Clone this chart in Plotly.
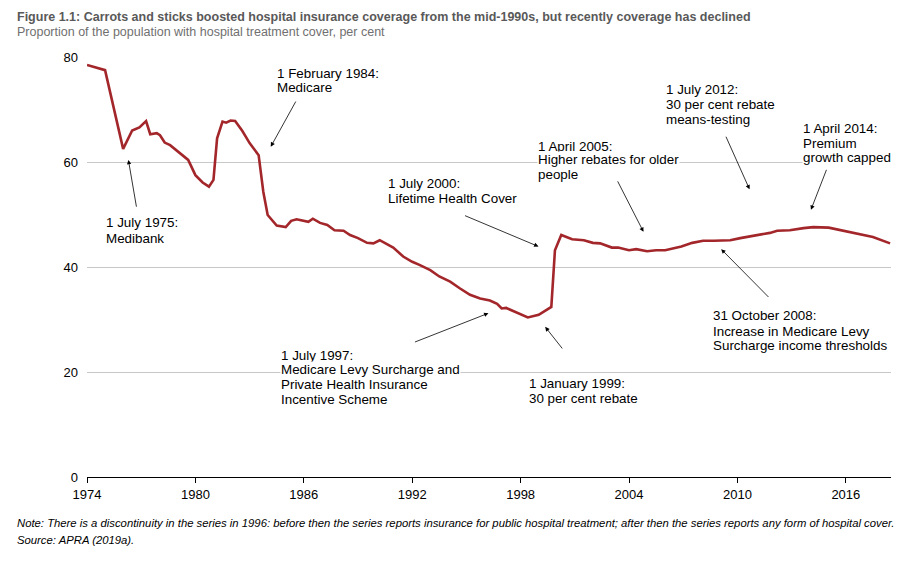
import plotly.graph_objects as go

# ---- data ----
years = [1974.0, 1975.0, 1976.0, 1976.5, 1976.9, 1977.27, 1977.5, 1977.86, 1978.04, 1978.3,
         1978.6, 1978.9, 1979.3, 1979.6, 1980.0, 1980.4, 1980.75, 1981.0, 1981.2, 1981.5,
         1981.7, 1981.95, 1982.2, 1982.6, 1983.0, 1983.5, 1983.76, 1984.0, 1984.5, 1985.0,
         1985.3, 1985.6, 1986.25, 1986.5, 1986.9, 1987.3, 1987.7, 1988.2, 1988.56, 1989.0,
         1989.5, 1989.85, 1990.2, 1990.95, 1991.5, 1992.0, 1992.4, 1993.0, 1993.5, 1994.1,
         1994.65, 1995.2, 1995.76, 1996.3, 1996.7, 1996.95, 1997.2, 1997.8, 1998.4, 1999.0,
         1999.7, 1999.9, 2000.25, 2000.85, 2001.5, 2002.0, 2002.4, 2003.05, 2003.4, 2004.0,
         2004.4, 2005.0, 2005.5, 2006.0, 2006.46, 2006.9, 2007.5, 2008.1, 2008.7, 2009.6,
         2010.16, 2010.7, 2011.26, 2011.8, 2012.2, 2012.9, 2013.66, 2014.2, 2015.05, 2015.7,
         2016.6, 2017.5, 2018.45]
coverage = [78.5, 77.5, 62.5, 66.0, 66.6, 67.8, 65.3, 65.5, 65.1, 63.7,
            63.2, 62.4, 61.3, 60.4, 57.5, 56.1, 55.3, 56.6, 64.5, 67.7,
            67.5, 67.9, 67.8, 65.9, 63.6, 61.3, 54.3, 49.9, 47.9, 47.6,
            48.8, 49.1, 48.6, 49.2, 48.4, 48.0, 47.0, 46.9, 46.1, 45.5,
            44.6, 44.5, 45.1, 43.7, 42.0, 41.0, 40.4, 39.4, 38.2, 37.2,
            35.9, 34.7, 34.0, 33.6, 33.0, 32.1, 32.2, 31.3, 30.4, 30.9,
            32.4, 43.2, 46.1, 45.3, 45.1, 44.6, 44.5, 43.7, 43.7, 43.2,
            43.4, 43.0, 43.2, 43.2, 43.5, 43.9, 44.6, 45.0, 45.0, 45.1,
            45.5, 45.8, 46.2, 46.5, 46.9, 47.0, 47.4, 47.6, 47.5, 47.0,
            46.3, 45.7, 44.5]

tick_years = [1974, 1980, 1986, 1992, 1998, 2004, 2010, 2016]
y_ticks = [0, 20, 40, 60, 80]

title = "Figure 1.1: Carrots and sticks boosted hospital insurance coverage from the mid-1990s, but recently coverage has declined"
subtitle = "Proportion of the population with hospital treatment cover, per cent"
note = "Note: There is a discontinuity in the series in 1996: before then the series reports insurance for public hospital treatment; after then the series reports any form of hospital cover."
source = "Source: APRA (2019a)."

# event labels: (lines, text-left year, line-centre values, arrow tail (x,y), arrow head (x,y))
events = [
    (["1 July 1975:", "Medibank"], 1975.0, [48.4, 45.4], (1976.75, 51.2), (1976.29, 60.4)),
    (["1 February 1984:", "Medicare"], 1984.46, [76.8, 74.1], (1985.6, 71.8), (1984.17, 62.9)),
    (["1 July 2000:", "Lifetime Health Cover"], 1990.59, [55.9, 53.0], (1994.84, 49.9), (1998.99, 43.9)),
    (["1 July 1997:", "Medicare Levy Surcharge and", "Private Health Insurance", "Incentive Scheme"],
     1984.68, [23.2, 20.4, 17.7, 14.8], (1992.07, 25.6), (1996.22, 31.2)),
    (["1 January 1999:", "30 per cent rebate"], 1998.43, [17.9, 15.0], (2000.37, 24.2), (1999.36, 28.6)),
    (["1 April 2005:", "Higher rebates for older", "people"], 1998.91, [63.0, 60.4, 57.7], (2003.33, 56.6), (2004.8, 46.7)),
    (["1 July 2012:", "30 per cent rebate", "means-testing"], 2005.99, [73.8, 71.0, 68.1], (2009.33, 65.1), (2010.67, 54.8)),
    (["1 April 2014:", "Premium", "growth capped"], 2013.59, [66.4, 63.6, 60.9], (2014.96, 58.8), (2014.07, 50.9)),
    (["31 October 2008:", "Increase in Medicare Levy", "Surcharge income thresholds"],
     2008.58, [30.7, 27.8, 25.1], (2011.8, 34.0), (2009.1, 43.4)),
]

FONT = "Liberation Sans, Arial, sans-serif"
LINE_COLOR = "#a3262a"

fig = go.Figure()
fig.add_trace(go.Scatter(x=years, y=coverage, mode="lines",
                         line=dict(color=LINE_COLOR, width=2.6),
                         hoverinfo="skip", showlegend=False))

annotations = []
for lines, tx, tys, tail, head in events:
    for line, ty in zip(lines, tys):
        # white box only where a text line crosses a gridline (breaks the gridline)
        crosses = any(abs(ty - g) < 1.5 for g in y_ticks)
        annotations.append(dict(x=tx, y=ty, xref="x", yref="y", text=line,
                                showarrow=False, xanchor="left", yanchor="middle",
                                align="left",
                                bgcolor="white" if crosses else "rgba(0,0,0,0)",
                                borderpad=0,
                                font=dict(family=FONT, size=13.4, color="black")))
    annotations.append(dict(x=head[0], y=head[1], xref="x", yref="y",
                            ax=tail[0], ay=tail[1], axref="x", ayref="y",
                            text="", showarrow=True, arrowhead=2, arrowsize=1.1,
                            arrowwidth=0.8, arrowcolor="black", standoff=0, startstandoff=0))

# page offset (browser body margin) and plot area in screen pixels
OFF = 8
L, R, T, B = 87, 891, 57, 477
def px(xp):
    return (xp - L) / (R - L)
def py(yp):
    return (B - yp) / (B - T)

annotations += [
    dict(x=px(15), y=py(17), xref="paper", yref="paper", text="<b>" + title + "</b>",
         showarrow=False, xanchor="left", yanchor="middle",
         font=dict(family=FONT, size=12.5, color="#595959")),
    dict(x=px(15), y=py(32), xref="paper", yref="paper", text=subtitle,
         showarrow=False, xanchor="left", yanchor="middle",
         font=dict(family=FONT, size=12.5, color="#707070")),
    dict(x=px(15), y=py(523), xref="paper", yref="paper", text="<i>" + note + "</i>",
         showarrow=False, xanchor="left", yanchor="middle",
         font=dict(family=FONT, size=11.3, color="black")),
    dict(x=px(15), y=py(540), xref="paper", yref="paper", text="<i>" + source + "</i>",
         showarrow=False, xanchor="left", yanchor="middle",
         font=dict(family=FONT, size=11.3, color="black")),
]

fig.update_layout(
    width=913 - OFF, height=563 - OFF,
    margin=dict(l=L - OFF, r=913 - R, t=T - OFF, b=563 - B),
    paper_bgcolor="white", plot_bgcolor="white",
    font=dict(family=FONT, size=13, color="black"),
    showlegend=False,
    annotations=annotations,
    xaxis=dict(range=[1974, 2018.5], tickmode="array", tickvals=tick_years,
               ticktext=[str(t) for t in tick_years],
               showgrid=False, zeroline=False, showline=True, linecolor="black",
               linewidth=1.2, ticks="outside", ticklen=5, tickcolor="black",
               tickfont=dict(family=FONT, size=13, color="black")),
    yaxis=dict(range=[0, 80], tickmode="array", tickvals=y_ticks,
               showgrid=True, gridcolor="#c8c8c8", gridwidth=1, zeroline=False,
               showline=False, ticks="", ticklabelstandoff=8,
               tickfont=dict(family=FONT, size=13, color="black")),
)

fig.write_html("out.html")
